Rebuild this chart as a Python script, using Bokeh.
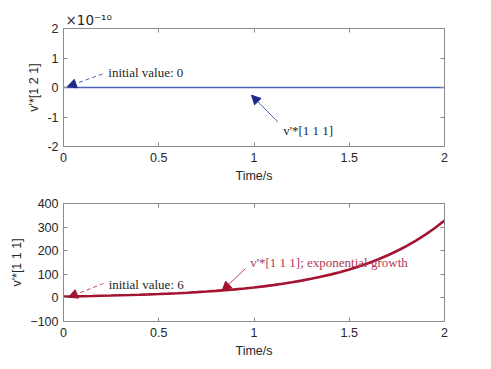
from bokeh.plotting import figure
from bokeh.layouts import column
from bokeh.models import (Range1d, FixedTicker, CustomJSTickFormatter, LinearAxis,
                          Label, Arrow, NormalHead, Title)
from bokeh.embed import file_html
from bokeh.resources import INLINE

# ---- data ----
time_s = [0.0, 0.1, 0.2, 0.3, 0.4, 0.5, 0.6, 0.7, 0.8, 0.9, 1.0,
          1.1, 1.2, 1.3, 1.4, 1.5, 1.6, 1.7, 1.8, 1.9, 2.0]
v_121 = [0.0, 0.0, 0.0, 0.0, 0.0, 0.0, 0.0, 0.0, 0.0, 0.0, 0.0,
         0.0, 0.0, 0.0, 0.0, 0.0, 0.0, 0.0, 0.0, 0.0, 0.0]
time_fine = [0.0, 0.05, 0.1, 0.15, 0.2, 0.25, 0.3, 0.35, 0.4, 0.45, 0.5,
             0.55, 0.6, 0.65, 0.7, 0.75, 0.8, 0.85, 0.9, 0.95, 1.0,
             1.05, 1.1, 1.15, 1.2, 1.25, 1.3, 1.35, 1.4, 1.45, 1.5,
             1.55, 1.6, 1.65, 1.7, 1.75, 1.8, 1.85, 1.9, 1.95, 2.0]
v_111 = [6.0, 6.6, 7.3, 8.1, 9.0, 9.9, 11.0, 12.1, 13.4, 14.8, 16.3,
         18.0, 19.9, 22.0, 24.3, 26.9, 29.7, 32.8, 36.3, 40.1, 44.3,
         49.0, 54.2, 59.9, 66.1, 73.1, 80.8, 89.3, 98.6, 109.0, 120.5,
         133.1, 147.2, 162.6, 179.8, 198.7, 219.6, 242.7, 268.2, 296.4, 327.6]
x_ticks = [0, 0.5, 1, 1.5, 2]
top_y_ticks = [-2e-10, -1e-10, 0.0, 1e-10, 2e-10]
bottom_y_ticks = [-100, 0, 100, 200, 300, 400]
exponent_label = "\u00d710\u207b\u00b9\u2070"

AX = "#8c8c8c"
TXT = "#262626"
SANS = "Liberation Sans"
SERIF = "Liberation Serif"
BLUE = "#4a62b8"
NAVY = "#1f2a88"
CRIMSON = "#a2142f"


def style(p, yticks, ylabel, fmt=None):
    p.xgrid.visible = False
    p.ygrid.visible = False
    p.outline_line_color = AX
    p.outline_line_width = 1
    p.xaxis.ticker = FixedTicker(ticks=x_ticks)
    p.yaxis.ticker = FixedTicker(ticks=yticks)
    if fmt is not None:
        p.yaxis.formatter = fmt
    p.xaxis.axis_label = "Time/s"
    p.yaxis.axis_label = ylabel
    for ax in p.xaxis + p.yaxis:
        ax.axis_line_color = AX
        ax.major_tick_line_color = AX
        ax.major_tick_in = 4
        ax.major_tick_out = 0
        ax.minor_tick_line_color = None
        ax.major_label_text_font = SANS
        ax.major_label_text_font_size = "12.5px"
        ax.major_label_text_color = TXT
        ax.axis_label_text_font = SANS
        ax.axis_label_text_font_size = "12.5px"
        ax.axis_label_text_font_style = "normal"
        ax.axis_label_text_color = TXT
    p.xaxis.major_label_standoff = 6
    p.xaxis.axis_label_standoff = 4
    p.yaxis.major_label_standoff = 5
    p.yaxis.axis_label_standoff = 3
    # mirrored ticks on top and right (box on)
    blank = CustomJSTickFormatter(code="return '';")
    top = LinearAxis(ticker=FixedTicker(ticks=x_ticks), formatter=blank,
                     axis_line_color=AX, major_tick_line_color=AX, major_tick_in=4,
                     major_tick_out=0, minor_tick_line_color=None, major_label_standoff=0)
    right = LinearAxis(ticker=FixedTicker(ticks=yticks), formatter=blank,
                       axis_line_color=AX, major_tick_line_color=AX, major_tick_in=4,
                       major_tick_out=0, minor_tick_line_color=None, major_label_standoff=0)
    p.add_layout(top, "above")
    p.add_layout(right, "right")


# ---- top subplot ----
p1 = figure(frame_width=381, frame_height=118, output_backend="svg", toolbar_location=None,
            x_range=Range1d(0, 2), y_range=Range1d(-2e-10, 2e-10),
            min_border_left=63, min_border_top=28, min_border_bottom=44, min_border_right=20,
            background_fill_color="white", border_fill_color="white")
style(p1, top_y_ticks, "v'*[1 2 1]",
      CustomJSTickFormatter(code="return (tick*1e10).toFixed(0);"))
p1.title = Title(text=exponent_label, align="left", vertical_align="bottom",
                 text_font="DejaVu Sans", text_font_size="13.5px", text_font_style="normal",
                 text_color=TXT, offset=2, standoff=2)
p1.line(time_s, v_121, line_color=BLUE, line_width=1.6)

p1.add_layout(Arrow(end=NormalHead(size=9, fill_color=NAVY, line_color=NAVY),
                    x_start=0.205, y_start=0.46e-10, x_end=0.02, y_end=0.03e-10,
                    line_color=BLUE, line_width=1, line_dash="4 3"))
p1.add_layout(Label(x=0.235, y=0.5e-10, text="initial value: 0", text_font=SERIF,
                    text_font_size="13px", text_color=TXT, text_baseline="middle"))
p1.add_layout(Arrow(end=NormalHead(size=9, fill_color=NAVY, line_color=NAVY),
                    x_start=1.125, y_start=-1.17e-10, x_end=0.987, y_end=-0.26e-10,
                    line_color=BLUE, line_width=1))
p1.add_layout(Label(x=1.153, y=-1.45e-10, text="v'*[1 1 1]", text_font=SERIF,
                    text_font_size="13px", text_color=TXT, text_baseline="middle"))

# ---- bottom subplot ----
p2 = figure(frame_width=381, frame_height=118, output_backend="svg", toolbar_location=None,
            x_range=Range1d(0, 2), y_range=Range1d(-100, 400),
            min_border_left=63, min_border_top=13, min_border_bottom=40, min_border_right=20,
            background_fill_color="white", border_fill_color="white")
style(p2, bottom_y_ticks, "v'*[1 1 1]")
p2.line(time_fine, v_111, line_color=CRIMSON, line_width=2.6)

p2.add_layout(Arrow(end=NormalHead(size=9, fill_color=CRIMSON, line_color=CRIMSON),
                    x_start=0.21, y_start=61, x_end=0.026, y_end=3,
                    line_color="#c04060", line_width=1, line_dash="4 3"))
p2.add_layout(Label(x=0.237, y=55, text="initial value: 6", text_font=SERIF,
                    text_font_size="13px", text_color=TXT, text_baseline="middle"))
p2.add_layout(Arrow(end=NormalHead(size=9, fill_color=CRIMSON, line_color=CRIMSON),
                    x_start=0.955, y_start=124, x_end=0.833, y_end=31,
                    line_color="#c04060", line_width=1))
p2.add_layout(Label(x=0.98, y=151, text="v'*[1 1 1]; exponential growth", text_font=SERIF,
                    text_font_size="13px", text_color="#b0385a", text_baseline="middle"))

layout = column(p1, p2, spacing=0)
open("out.html", "w").write(file_html(layout, INLINE))
